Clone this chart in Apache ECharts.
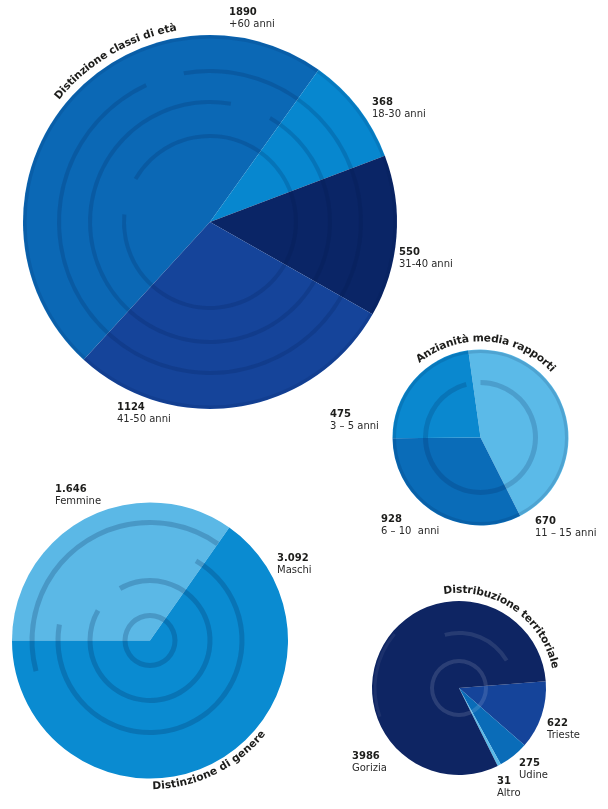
<!DOCTYPE html>
<html><head><meta charset="utf-8">
<script src="https://cdn.jsdelivr.net/npm/echarts@6/dist/echarts.min.js"></script>
<style>html,body{margin:0;padding:0;background:#fff}#c{width:608px;height:809px}</style>
</head><body><div id="c"></div>
<script>
// ---- Data ----
const etaNames  = ['+60 anni', '18-30 anni', '31-40 anni', '41-50 anni'];
const etaValues = [1890, 368, 550, 1124];
const anzNames  = ['6 – 10  anni', '11 – 15 anni', '3 – 5 anni'];
const anzValues = [928, 670, 475];
const genNames  = ['Femmine', 'Maschi'];
const genValues = [1646, 3092];
const terNames  = ['Trieste', 'Udine', 'Altro', 'Gorizia'];
const terValues = [622, 275, 31, 3986];
const titles = ['Distinzione classi di età', 'Anzianità media rapporti', 'Distinzione di genere', 'Distribuzione territoriale'];

// ---- Layout / style ----
const FONT = '"DejaVu Sans", sans-serif';
const TXT = '#1d1d1b';
const charts = [
  { names: etaNames, values: etaValues, center: [210, 222], r: 187, start: 227.5,
    colors: ['#0b68b5', '#0787cf', '#0a2566', '#15449a'],
    labels: [[229, 6], [372, 96], [399, 246], [117, 401]], fmt: v => String(v) },
  { names: anzNames, values: anzValues, center: [480.5, 437.5], r: 88, start: 98,
    colors: ['#5bbae8', '#0a6cb8', '#0a88cf'],
    labels: [[381, 513], [535, 515], [330, 408]], fmt: v => String(v) },
  { names: genNames, values: genValues, center: [150, 640.5], r: 138, start: 180,
    colors: ['#5bb8e6', '#0a8bd1'],
    labels: [[55, 483], [277, 552]], fmt: v => String(v).replace(/\B(?=(\d{3})+(?!\d))/g, '.') },
  { names: terNames, values: terValues, center: [459, 688], r: 87, start: 4.4,
    colors: ['#15449a', '#0a6cb8', '#5bbae8', '#0e2563'],
    labels: [[547, 717], [519, 757], [497, 775], [352, 750]], fmt: v => String(v) }
];

const series = charts.map(c => ({
  type: 'pie', center: c.center, radius: [0, c.r], startAngle: c.start, clockwise: true,
  animation: false, silent: true, avoidLabelOverlap: false,
  emphasis: { disabled: true },
  data: c.values.map((v, i) => ({ name: c.names[i], value: v, itemStyle: { color: c.colors[i] } })),
  label: {
    show: true, position: 'outside',
    formatter: p => '{v|' + c.fmt(p.value) + '}\n{n|' + p.name + '}',
    rich: {
      v: { fontFamily: FONT, fontWeight: 'bold', fontSize: 10, color: TXT, lineHeight: 12 },
      n: { fontFamily: FONT, fontSize: 10, color: '#2a2a2a', lineHeight: 12 }
    }
  },
  labelLine: { show: false },
  labelLayout: p => ({ x: c.labels[p.dataIndex][0], y: c.labels[p.dataIndex][1], align: 'left', verticalAlign: 'top' })
}));

// decorative texture rings (style only)
function ring(ci, r, w, color, start, sweep) {
  const c = charts[ci];
  const data = [{ value: sweep, itemStyle: { color } }];
  if (sweep < 360) data.push({ value: 360 - sweep, itemStyle: { color: 'rgba(0,0,0,0)' } });
  return { type: 'pie', center: c.center, radius: [r - w / 2, r + w / 2], startAngle: start,
    silent: true, animation: false, label: { show: false }, labelLine: { show: false },
    emphasis: { disabled: true }, data };
}
const dark = 'rgba(0,25,70,0.17)';
const dark2 = 'rgba(0,25,70,0.2)';
series.push(
  ring(0, 185, 3, 'rgba(0,25,70,0.12)', 0, 360), ring(0, 151, 4, dark, 100, 345), ring(0, 120, 4, dark, 60, 340), ring(0, 86, 4, dark, 150, 335),
  ring(1, 86, 3, 'rgba(0,25,70,0.14)', 0, 360), ring(1, 55, 5, dark, 90, 345),
  ring(2, 25, 5, dark2, 0, 360), ring(2, 60, 5, dark2, 120, 330), ring(2, 92, 5, dark2, 60, 250), ring(2, 118, 5, dark2, 195, 140),
  ring(3, 27, 4, 'rgba(255,255,255,0.12)', 0, 360), ring(3, 55, 4, 'rgba(255,255,255,0.10)', 105, 75), ring(3, 84, 3, 'rgba(255,255,255,0.06)', 200, 60)
);

// curved titles
const mctx = document.createElement('canvas').getContext('2d');
function arcText(text, ci, rMid, midDeg, targetLen, top) {
  const c = charts[ci];
  mctx.font = 'bold 10px ' + FONT;
  const fs = Math.min(12, 10 * targetLen / mctx.measureText(text).width);
  mctx.font = 'bold ' + fs + 'px ' + FONT;
  const chars = Array.from(text);
  const widths = chars.map(ch => mctx.measureText(ch).width);
  const total = widths.reduce((a, b) => a + b, 0);
  const span = total / rMid, mid = midDeg * Math.PI / 180;
  let acc = 0;
  return chars.map((ch, i) => {
    const off = (acc + widths[i] / 2) / rMid; acc += widths[i];
    const th = top ? mid + span / 2 - off : mid - span / 2 + off;
    return { type: 'text', silent: true,
      x: c.center[0] + rMid * Math.cos(th), y: c.center[1] - rMid * Math.sin(th),
      rotation: top ? th - Math.PI / 2 : th + Math.PI / 2,
      style: { text: ch, x: 0, y: 0, align: 'center', verticalAlign: 'middle',
        fontFamily: FONT, fontWeight: 'bold', fontSize: fs, fill: TXT } };
  });
}
const graphic = [].concat(
  arcText(titles[0], 0, 197, 120.4, 142, true),
  arcText(titles[1], 1, 99, 86, 150, true),
  arcText(titles[2], 2, 146, -64, 128, false),
  arcText(titles[3], 3, 98, 55.3, 150, true)
);

const chart = echarts.init(document.getElementById('c'), null, { renderer: 'canvas' });
chart.setOption({ animation: false, series, graphic });
</script></body></html>
